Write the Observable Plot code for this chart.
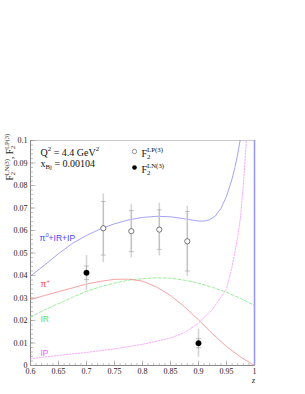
<!DOCTYPE html>
<html><head><meta charset="utf-8">
<script src="https://cdn.jsdelivr.net/npm/d3@7"></script>
<script src="https://cdn.jsdelivr.net/npm/@observablehq/plot@0.6"></script>
<style>body{margin:0;background:#fff}</style>
</head><body><div id="chart"></div>
<script>
// ---- data ----
const zGrid   = [0.6, 0.625, 0.65, 0.675, 0.7, 0.725, 0.75, 0.775, 0.8, 0.825, 0.85, 0.875, 0.9, 0.925, 0.95, 0.975, 1.0];
const piPlus  = [0.0293, 0.0311, 0.0328, 0.0345, 0.0362, 0.0374, 0.0383, 0.0384, 0.0375, 0.0349, 0.0311, 0.0261, 0.0203, 0.0141, 0.0084, 0.0038, 0.0];
const regIR   = [0.0215, 0.0247, 0.0275, 0.0303, 0.0330, 0.0350, 0.0366, 0.0379, 0.0386, 0.0390, 0.0388, 0.0379, 0.0366, 0.0347, 0.0326, 0.0298, 0.0267];
const ipZ     = [0.6, 0.65, 0.7, 0.75, 0.8, 0.85, 0.875, 0.9, 0.925, 0.95, 0.96, 0.97, 0.975, 0.98, 0.985, 0.99];
const pomIP   = [0.0030, 0.0045, 0.0058, 0.0074, 0.0094, 0.0122, 0.0146, 0.0188, 0.0250, 0.0340, 0.0440, 0.0570, 0.0660, 0.0800, 0.0980, 0.1400];
const totZ    = [0.6, 0.625, 0.65, 0.675, 0.7, 0.725, 0.75, 0.775, 0.8, 0.825, 0.85, 0.875, 0.9, 0.91, 0.92, 0.93, 0.94, 0.95, 0.96, 0.965, 0.97, 0.975, 0.98];
const total   = [0.0398, 0.0446, 0.0497, 0.0543, 0.0578, 0.0607, 0.0630, 0.0647, 0.0658, 0.0663, 0.0661, 0.0652, 0.0642, 0.0642, 0.0648, 0.0664, 0.0698, 0.0752, 0.0830, 0.0880, 0.0940, 0.1010, 0.1100];

const lpZ = [0.73, 0.78, 0.83, 0.88];
const lpF2 = [0.0610, 0.0597, 0.0604, 0.0552];
const lpErrTot = [0.0153, 0.0118, 0.0117, 0.0156];
const lpErrStat = [0.0119, 0.0091, 0.0088, 0.0132];

const lnZ = [0.70, 0.90];
const lnF2 = [0.0412, 0.0099];
const lnErrTot = [0.0077, 0.0062];
const lnErrStat = [0.0030, 0.0020];

const xMajorTicks = [0.6, 0.65, 0.7, 0.75, 0.8, 0.85, 0.9, 0.95, 1];
const yMajorTicks = [0, 0.01, 0.02, 0.03, 0.04, 0.05, 0.06, 0.07, 0.08, 0.09, 0.1];
const xMinorTicks = d3.ticks(0.6, 1, 40);
const yMinorTicks = d3.ticks(0, 0.1, 50);

// ---- tables ----
const curve = (zs, vs) => zs.map((z, i) => ({z, v: vs[i]}));
const lp = lpZ.map((z, i) => ({z, f: lpF2[i], et: lpErrTot[i], es: lpErrStat[i]}));
const ln = lnZ.map((z, i) => ({z, f: lnF2[i], et: lnErrTot[i], es: lnErrStat[i]}));
const pts = lp.concat(ln);
const statEnds = pts.flatMap(d => [{z: d.z, y: d.f - d.es}, {z: d.z, y: d.f + d.es}]);

const hSym = (a, b) => ({draw(ctx) { ctx.moveTo(a, 0); ctx.lineTo(b, 0); }});
const vSym = (a, b) => ({draw(ctx) { ctx.moveTo(0, a); ctx.lineTo(0, b); }});

const fmt = d => String(+d.toFixed(2));
const serif = "Liberation Serif";
const sans = "Liberation Sans";

const chart = Plot.plot({
  width: 305, height: 394,
  marginLeft: 30, marginRight: 51, marginTop: 140, marginBottom: 29,
  x: {domain: [0.6, 1]},
  y: {domain: [0, 0.1]},
  style: {fontFamily: serif, fontSize: "8px", background: "white", color: "#222"},
  marks: [
    Plot.frame({stroke: "#c8c8c8"}),
    Plot.ruleX([0.6], {stroke: "#777", strokeWidth: 0.8}),
    Plot.ruleY([0], {stroke: "#777", strokeWidth: 0.8}),
    Plot.dot(yMinorTicks, {y: d => d, frameAnchor: "left", symbol: hSym(0, 2.5), stroke: "#999", fill: "none", strokeWidth: 0.6}),
    Plot.dot(yMajorTicks, {y: d => d, frameAnchor: "left", symbol: hSym(0, 5), stroke: "#999", fill: "none", strokeWidth: 0.6}),
    Plot.dot(xMinorTicks, {x: d => d, frameAnchor: "bottom", symbol: vSym(0, -2.5), stroke: "#999", fill: "none", strokeWidth: 0.6}),
    Plot.dot(xMajorTicks, {x: d => d, frameAnchor: "bottom", symbol: vSym(0, -5), stroke: "#999", fill: "none", strokeWidth: 0.6}),
    Plot.axisX({ticks: xMajorTicks, tickSize: 0, tickPadding: 3, tickFormat: fmt, label: null, fontFamily: serif}),
    Plot.axisY({ticks: yMajorTicks, tickSize: 0, tickPadding: 3, tickFormat: fmt, label: null, fontFamily: serif}),

    // curves
    Plot.line(curve(zGrid, regIR), {x: "z", y: "v", stroke: "#80e880", strokeWidth: 0.8, strokeDasharray: "3,2", clip: true}),
    Plot.line(curve(ipZ, pomIP), {x: "z", y: "v", stroke: "#f596f5", strokeWidth: 0.8, strokeDasharray: "1.5,1.5", clip: true}),
    Plot.line(curve(zGrid, piPlus), {x: "z", y: "v", stroke: "#f58a8a", strokeWidth: 0.8, clip: true}),
    Plot.line(curve(totZ, total), {x: "z", y: "v", stroke: "#8c8cf5", strokeWidth: 0.8, clip: true}),
    Plot.ruleX([1], {y1: 0, y2: 0.1, stroke: "#9a9af5", strokeWidth: 1.6}),

    // error bars
    Plot.ruleX(pts, {x: "z", y1: d => d.f - d.et, y2: d => d.f + d.et, stroke: "#d4d4d4", strokeWidth: 1.6}),
    Plot.ruleX(pts, {x: "z", y1: d => d.f - d.es, y2: d => d.f + d.es, stroke: "#b4b4b4", strokeWidth: 0.7}),
    Plot.dot(statEnds, {x: "z", y: "y", symbol: hSym(-2.5, 2.5), stroke: "#aaa", fill: "none", strokeWidth: 0.7}),
    Plot.dot(lp, {x: "z", y: "f", r: 2.6, stroke: "#555", fill: "white", strokeWidth: 0.8}),
    Plot.dot(ln, {x: "z", y: "f", r: 2.7, fill: "black", stroke: "black", strokeWidth: 0.5}),

    // annotations
    Plot.text(["Q^{2} = 4.4 GeV^{2}"], {frameAnchor: "top-left", dx: 10, dy: 15, lineAnchor: "bottom", textAnchor: "start", fontSize: 10, fontFamily: serif, fill: "#111"}),
    Plot.text(["x_{Bj} = 0.00104"], {frameAnchor: "top-left", dx: 10, dy: 26, lineAnchor: "bottom", textAnchor: "start", fontSize: 10, fontFamily: serif, fill: "#111"}),
    Plot.dot([0], {frameAnchor: "top-left", dx: 104, dy: 11, r: 2.2, stroke: "#666", fill: "white", strokeWidth: 0.7}),
    Plot.dot([0], {frameAnchor: "top-left", dx: 104, dy: 27, r: 2.3, fill: "black"}),
    Plot.text(["F_{2}^{LP(3)}"], {frameAnchor: "top-left", dx: 111, dy: 16, lineAnchor: "bottom", textAnchor: "start", fontSize: 10, fontFamily: serif, fill: "#111"}),
    Plot.text(["F_{2}^{LN(3)}"], {frameAnchor: "top-left", dx: 111, dy: 32, lineAnchor: "bottom", textAnchor: "start", fontSize: 10, fontFamily: serif, fill: "#111"}),
    Plot.text(["π^{0}+IR+IP"], {frameAnchor: "top-left", dx: 9, dy: 100, lineAnchor: "bottom", textAnchor: "start", fontSize: 8.5, fontFamily: sans, fill: "#4545ff"}),
    Plot.text(["π^{+}"], {frameAnchor: "top-left", dx: 10, dy: 146, lineAnchor: "bottom", textAnchor: "start", fontSize: 8.5, fontFamily: sans, fill: "#ff4545"}),
    Plot.text(["IR"], {frameAnchor: "top-left", dx: 10, dy: 181, lineAnchor: "bottom", textAnchor: "start", fontSize: 8.5, fontFamily: sans, fill: "#55dd55"}),
    Plot.text(["IP"], {frameAnchor: "top-left", dx: 10, dy: 215, lineAnchor: "bottom", textAnchor: "start", fontSize: 8.5, fontFamily: sans, fill: "#f055f0"}),
    Plot.text(["z"], {frameAnchor: "bottom-right", dx: -1, dy: 17, lineAnchor: "bottom", textAnchor: "middle", fontSize: 8, fontFamily: serif, fill: "#222"}),
    Plot.text(["F_{2}^{LN(3)}, F_{2}^{LP(3)}"], {frameAnchor: "top-left", dx: -18, dy: 40, rotate: -90, lineAnchor: "bottom", textAnchor: "start", fontSize: 9.5, fontFamily: serif, fill: "#222"})
  ]
});
document.getElementById("chart").appendChild(chart);

// turn ^{..} and _{..} markup into real super/subscripts
d3.select(chart).selectAll("text").each(function() {
  const t = this.textContent;
  if (!/[\^_]\{/.test(t)) return;
  const fs = parseFloat(getComputedStyle(this).fontSize) || 8;
  const el = d3.select(this);
  el.text("");
  const re = /([\^_])\{([^}]*)\}|([^\^_]+)/g;
  let m, cur = 0, prevKind = null, prevNode = null;
  while ((m = re.exec(t))) {
    const kind = m[3] ? "n" : m[1];
    const str = m[3] || m[2];
    const target = kind === "n" ? 0 : kind === "^" ? -0.42 * fs : 0.28 * fs;
    const ts = el.append("tspan").text(str);
    if (target !== cur) ts.attr("dy", target - cur);
    cur = target;
    if (kind !== "n") ts.attr("font-size", 0.68 * fs);
    if (kind === "^" && prevKind === "_" && prevNode) ts.attr("dx", -prevNode.getComputedTextLength());
    prevKind = kind; prevNode = ts.node();
  }
});
</script></body></html>
